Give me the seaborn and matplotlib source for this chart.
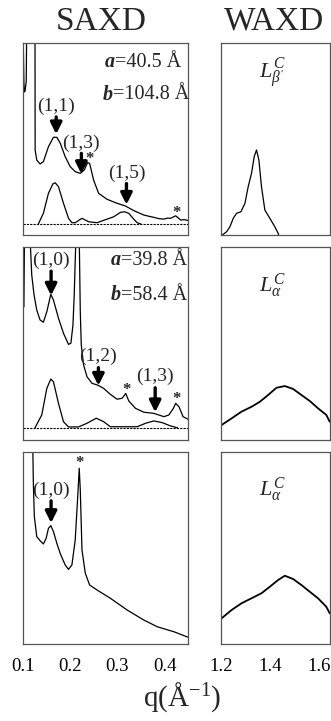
import matplotlib
matplotlib.use("Agg")
import matplotlib.pyplot as plt
import seaborn as sns

# ---- SAXD data (q in 1/A, intensity in panel units 0..1) ----
# top row: L_beta' phase
saxd1_q = [0.1005, 0.1025, 0.1035, 0.105, 0.1075, 0.1085, 0.126, 0.1263, 0.1297, 0.1367, 0.1437,
           0.1544, 0.165, 0.1722, 0.1792, 0.1898, 0.2004, 0.211, 0.2217, 0.2302, 0.2372,
           0.2414, 0.2499, 0.2605, 0.2783, 0.2996, 0.3172, 0.3348, 0.356, 0.3660, 0.3773,
           0.3880, 0.3985, 0.4060, 0.4127, 0.4233, 0.4339, 0.4420, 0.4516]
saxd1_i = [1.10, 0.80, 0.745, 0.75, 0.80, 1.10, 1.10, 0.443, 0.39, 0.37, 0.382,
           0.46, 0.509, 0.509, 0.479, 0.408, 0.356, 0.33, 0.321, 0.339, 0.377,
           0.373, 0.286, 0.217, 0.186, 0.165, 0.151, 0.127, 0.104, 0.098, 0.092,
           0.085, 0.083, 0.088, 0.087, 0.100, 0.078, 0.080, 0.074]
fit1_q = [0.133, 0.1437, 0.1544, 0.1637, 0.1686, 0.1756, 0.1862, 0.1968, 0.204, 0.211,
          0.2253, 0.2393, 0.2571, 0.2924, 0.3066, 0.3151, 0.3242, 0.3348, 0.342, 0.350]
fit1_i = [0.057, 0.113, 0.217, 0.266, 0.272, 0.252, 0.165, 0.087, 0.064, 0.064,
          0.087, 0.069, 0.064, 0.095, 0.118, 0.121, 0.113, 0.082, 0.064, 0.057]
base1 = 0.057

# middle row: L_alpha phase (heating)
saxd2_q = [0.1005, 0.101, 0.1025, 0.104, 0.1155, 0.1191, 0.124, 0.1297, 0.1367, 0.1437,
           0.151, 0.1594, 0.165, 0.1756, 0.1862, 0.1968, 0.2019, 0.2062, 0.2089, 0.2125,
           0.2195, 0.2217, 0.2238, 0.2287, 0.2359, 0.2465, 0.2584, 0.2711, 0.2853, 0.2996,
           0.3102, 0.3178, 0.3242, 0.3384, 0.356, 0.3773, 0.3985, 0.4091, 0.4185, 0.4233,
           0.4304, 0.4389, 0.4482, 0.4516]
saxd2_i = [1.10, 0.69, 0.69, 1.10, 1.05, 0.854, 0.751, 0.673, 0.622, 0.61,
           0.665, 0.754, 0.725, 0.631, 0.553, 0.496, 0.502, 0.596, 0.751, 1.05,
           1.05, 0.665, 0.493, 0.39, 0.329, 0.295, 0.286, 0.269, 0.238, 0.213,
           0.218, 0.243, 0.204, 0.166, 0.146, 0.14, 0.123, 0.132, 0.166, 0.192,
           0.174, 0.123, 0.111, 0.111]
fit2_q = [0.1261, 0.1403, 0.151, 0.1594, 0.165, 0.1756, 0.1862, 0.1968, 0.218, 0.2359,
          0.2556, 0.2711, 0.2853, 0.342, 0.3597, 0.3773, 0.3951, 0.4127, 0.427]
fit2_i = [0.066, 0.132, 0.269, 0.317, 0.303, 0.192, 0.097, 0.07, 0.07, 0.089,
          0.115, 0.097, 0.071, 0.071, 0.089, 0.101, 0.092, 0.075, 0.066]
base2 = 0.066

# bottom row: L_alpha phase (cooling)
saxd3_q = [0.1212, 0.1225, 0.1246, 0.1297, 0.1367, 0.1437, 0.1495, 0.1544, 0.1594, 0.165,
           0.1722, 0.1792, 0.1898, 0.1968, 0.204, 0.211, 0.2159, 0.2195, 0.2217, 0.2253,
           0.2323, 0.2414, 0.2571, 0.2853, 0.3208, 0.356, 0.3845, 0.4198, 0.4503]
saxd3_i = [1.05, 0.836, 0.663, 0.559, 0.538, 0.521, 0.55, 0.602, 0.616, 0.585,
           0.524, 0.472, 0.412, 0.389, 0.412, 0.542, 0.749, 0.914, 0.801, 0.49,
           0.369, 0.308, 0.282, 0.239, 0.178, 0.126, 0.091, 0.065, 0.036]

# ---- WAXD data ----
waxd1_q = [1.2053, 1.2229, 1.2367, 1.2502, 1.2637, 1.2816, 1.298, 1.3114, 1.3249, 1.3359,
           1.3453, 1.3551, 1.3657, 1.3796, 1.40, 1.4204, 1.4339, 1.438]
waxd1_i = [0.0, 0.017, 0.043, 0.087, 0.113, 0.121, 0.165, 0.252, 0.321, 0.408,
           0.443, 0.391, 0.252, 0.13, 0.087, 0.043, 0.009, -0.01]
waxd2_q = [1.2025, 1.2433, 1.2841, 1.3249, 1.3592, 1.3931, 1.427, 1.4612, 1.4951, 1.529,
           1.5633, 1.5972, 1.6311, 1.645]
waxd2_i = [0.08, 0.114, 0.149, 0.174, 0.2, 0.235, 0.272, 0.281, 0.266, 0.235,
           0.204, 0.166, 0.132, 0.097]
waxd3_q = [1.2025, 1.2433, 1.2841, 1.3249, 1.3657, 1.40, 1.4339, 1.4612, 1.4951, 1.529,
           1.5633, 1.5972, 1.6311, 1.645]
waxd3_i = [0.135, 0.178, 0.213, 0.239, 0.265, 0.299, 0.334, 0.356, 0.339, 0.308,
           0.273, 0.239, 0.195, 0.161]

saxd_ticks = [0.1, 0.2, 0.3, 0.4]
waxd_ticks = [1.2, 1.4, 1.6]
waxd_minor = [1.3, 1.5]
phase_labels = [r"$L^{C}_{\beta'}$", r"$L^{C}_{\alpha}$", r"$L^{C}_{\alpha}$"]

# peak labels: (text, q, label y, arrow start y, arrow tip y)
peaks1 = [("(1,1)", 0.1708, 0.672, 0.615, 0.525),
          ("(1,3)", 0.2240, 0.478, 0.425, 0.318),
          ("(1,5)", 0.3193, 0.321, 0.268, 0.158)]
peaks2 = [("(1,0)", 0.1600, 0.931, 0.874, 0.748),
          ("(1,2)", 0.2600, 0.432, 0.376, 0.283),
          ("(1,3)", 0.3800, 0.329, 0.272, 0.146)]
peaks3 = [("(1,0)", 0.1600, 0.800, 0.745, 0.630)]
stars1 = [(0.2414, 0.395), (0.4248, 0.112)]
stars2 = [(0.3193, 0.262), (0.4248, 0.212)]
stars3 = [(0.2202, 0.940)]

sns.set_style("white")
plt.rcParams["font.family"] = ["Liberation Serif", "DejaVu Serif"]
plt.rcParams["mathtext.fontset"] = "custom"
plt.rcParams["mathtext.rm"] = "Liberation Serif"
plt.rcParams["mathtext.it"] = "Liberation Serif:italic"
plt.rcParams["mathtext.bf"] = "Liberation Serif:bold"

W, H = 331, 721
fig = plt.figure(figsize=(W / 100, H / 100), dpi=100)

rows = [(43, 235), (246.7, 440.5), (451.7, 644.3)]
left_x = (22.7, 188.3)
right_x = (221.0, 329.7)


def make_ax(xr, yr):
    ax = fig.add_axes([xr[0] / W, 1 - yr[1] / H, (xr[1] - xr[0]) / W, (yr[1] - yr[0]) / H])
    for s in ax.spines.values():
        s.set_visible(True)
        s.set_color("#555555")
        s.set_linewidth(0.9)
    ax.set_ylim(0, 1)
    ax.set_yticks([])
    ax.set_xlabel("")
    ax.set_ylabel("")
    ax.tick_params(axis="x", direction="in", length=3.5, width=0.8, colors="k",
                   labelsize=13.5, pad=10)
    return ax


saxd_sets = [(saxd1_q, saxd1_i, fit1_q, fit1_i, base1, peaks1, stars1),
             (saxd2_q, saxd2_i, fit2_q, fit2_i, base2, peaks2, stars2),
             (saxd3_q, saxd3_i, None, None, None, peaks3, stars3)]
waxd_sets = [(waxd1_q, waxd1_i), (waxd2_q, waxd2_i), (waxd3_q, waxd3_i)]

for r, (yr, sset, wset) in enumerate(zip(rows, saxd_sets, waxd_sets)):
    q, inten, fq, fi, base, peaks, stars = sset
    ax = make_ax(left_x, yr)
    sns.lineplot(x=q, y=inten, ax=ax, color="k", lw=0.9, sort=False, estimator=None)
    if fq is not None:
        sns.lineplot(x=fq, y=fi, ax=ax, color="k", lw=0.9, sort=False, estimator=None)
        ax.axhline(base, color="k", lw=0.8, ls=(0, (2, 1)))
    ax.set_xlim(0.1, 0.45)
    ax.set_ylim(0, 1)
    ax.set_xticks(saxd_ticks)
    if r == 2:
        ax.set_xticklabels([f"{t:.1f}" for t in saxd_ticks])
    else:
        ax.set_xticklabels([])
    for lab, xq, ly, y0, y1 in peaks:
        ax.text(xq, ly, lab, ha="center", va="center", fontsize=14)
        ax.annotate("", xy=(xq, y1), xytext=(xq, y0),
                    arrowprops=dict(arrowstyle="-|>", lw=2.4, color="k",
                                    mutation_scale=17, shrinkA=0, shrinkB=0))
    for sq, sy in stars:
        ax.text(sq, sy, "*", ha="center", va="center", fontsize=12, fontweight="bold")

    wq, wi = wset
    axw = make_ax(right_x, yr)
    sns.lineplot(x=wq, y=wi, ax=axw, color="k", lw=1.3 if r else 0.9, sort=False, estimator=None)
    axw.set_xlim(1.2, 1.645)
    axw.set_ylim(0, 1)
    axw.set_xticks(waxd_ticks)
    axw.set_xticks(waxd_minor, minor=True)
    axw.tick_params(axis="x", which="minor", direction="in", length=2.5, width=0.8)
    if r == 2:
        axw.set_xticklabels([f"{t:.1f}" for t in waxd_ticks])
    else:
        axw.set_xticklabels([])
    axw.text(0.47, 0.84 if r == 0 else 0.80, phase_labels[r], transform=axw.transAxes,
             ha="center", va="center", fontsize=16)

# lattice parameter notes
ax1, ax2 = fig.axes[0], fig.axes[2]
for ax, yv, sym, txt, x0 in [(ax1, 0.90, "a", "=40.5 Å", 0.557), (ax1, 0.73, "b", "=104.8 Å", 0.546),
                             (ax2, 0.93, "a", "=39.8 Å", 0.594), (ax2, 0.75, "b", "=58.4 Å", 0.594)]:
    ax.text(x0, yv, sym, transform=ax.transAxes, ha="right", va="center",
            fontsize=14.5, fontweight="bold", fontstyle="italic")
    ax.text(x0, yv, txt, transform=ax.transAxes, ha="left", va="center", fontsize=14.5)

fig.text(101.5 / W, 1 - 21.5 / H, "SAXD", ha="center", va="center", fontsize=24)
fig.text(274 / W, 1 - 21.5 / H, "WAXD", ha="center", va="center", fontsize=24)
fig.text(182 / W, 1 - 697 / H, r"q(Å$^{-1}$)", ha="center", va="center", fontsize=21)

fig.savefig("out.png", dpi=100)
